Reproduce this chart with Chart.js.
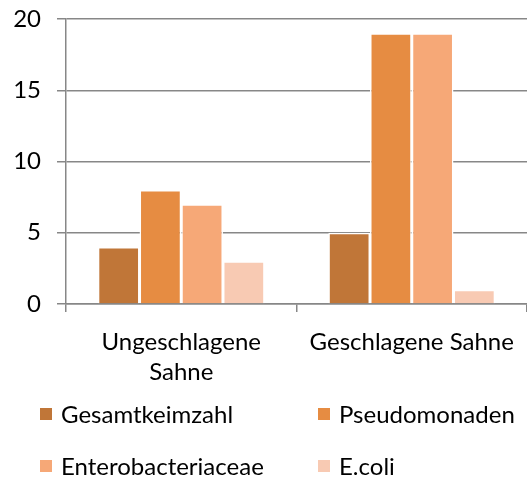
<!DOCTYPE html>
<html>
<head>
<meta charset="utf-8">
<script src="https://cdn.jsdelivr.net/npm/chart.js@4/dist/chart.umd.min.js"></script>
<style>
html,body{margin:0;padding:0;background:#fff;}
#wrap{width:527px;height:479px;position:relative;}
</style>
</head>
<body>
<div id="wrap"><canvas id="c" width="527" height="479"></canvas></div>
<script>
const categories = [['Ungeschlagene', 'Sahne'], 'Geschlagene Sahne'];
const seriesNames = ['Gesamtkeimzahl', 'Pseudomonaden', 'Enterobacteriaceae', 'E.coli'];
const gesamtkeimzahl = [4, 5];
const pseudomonaden = [8, 19];
const enterobacteriaceae = [7, 19];
const ecoli = [3, 1];
const yTicks = [0, 5, 10, 15, 20];

const colors = ['#C07638', '#E68C42', '#F6A877', '#F8CAB3'];
const FONT = 'Lato, "Open Sans", sans-serif';
const FS = 24;

const legendPlugin = {
  id: 'gridLegend',
  afterDraw(chart) {
    const ctx = chart.ctx;
    const cols = [40, 318];
    const rows = [414, 466];
    ctx.save();
    ctx.font = FS + 'px ' + FONT;
    ctx.textBaseline = 'middle';
    ctx.textAlign = 'left';
    chart.data.datasets.forEach((ds, i) => {
      const x = cols[i % 2];
      const y = rows[Math.floor(i / 2)];
      ctx.fillStyle = ds.backgroundColor;
      ctx.fillRect(x, y - 6, 12, 12);
      ctx.fillStyle = '#000';
      ctx.fillText(ds.label, x + 21, y + 1);
    });
    ctx.restore();
  }
};

const data = {
  labels: categories,
  datasets: [gesamtkeimzahl, pseudomonaden, enterobacteriaceae, ecoli].map((vals, i) => ({
    label: seriesNames[i],
    data: vals,
    backgroundColor: colors[i],
    borderColor: '#ffffff',
    borderWidth: 1.5,
    barPercentage: 1,
    categoryPercentage: 0.724
  }))
};

new Chart(document.getElementById('c'), {
  type: 'bar',
  data,
  options: {
    responsive: false,
    animation: false,
    layout: { padding: { top: 19, right: -3, left: 0, bottom: 0 } },
    plugins: { legend: { display: false }, tooltip: { enabled: false } },
    scales: {
      x: {
        offset: true,
        grid: {
          offset: true,
          drawOnChartArea: false,
          drawTicks: true,
          tickLength: 8,
          color: '#878787',
          lineWidth: 1.5
        },
        border: { display: true, color: '#878787', width: 1.5 },
        ticks: {
          color: '#000',
          font: { family: FONT, size: FS, lineHeight: 1.25 },
          padding: 15,
          maxRotation: 0,
          autoSkip: false
        },
        afterFit(scale) {
          scale.height = 175;
          scale.paddingLeft = 0;
          scale.paddingRight = 0;
        }
      },
      y: {
        min: 0,
        max: 20,
        afterBuildTicks(scale) { scale.ticks = yTicks.map(v => ({ value: v })); },
        grid: {
          color: '#878787',
          lineWidth: 1.5,
          tickLength: 9,
          drawTicks: true
        },
        border: { display: true, color: '#878787', width: 1.5 },
        ticks: {
          color: '#000',
          font: { family: FONT, size: FS },
          padding: 16
        },
        afterFit(scale) {
          scale.width = 66;
          scale.paddingTop = 0;
          scale.paddingBottom = 0;
        }
      }
    }
  },
  plugins: [legendPlugin]
});
</script>
</body>
</html>
